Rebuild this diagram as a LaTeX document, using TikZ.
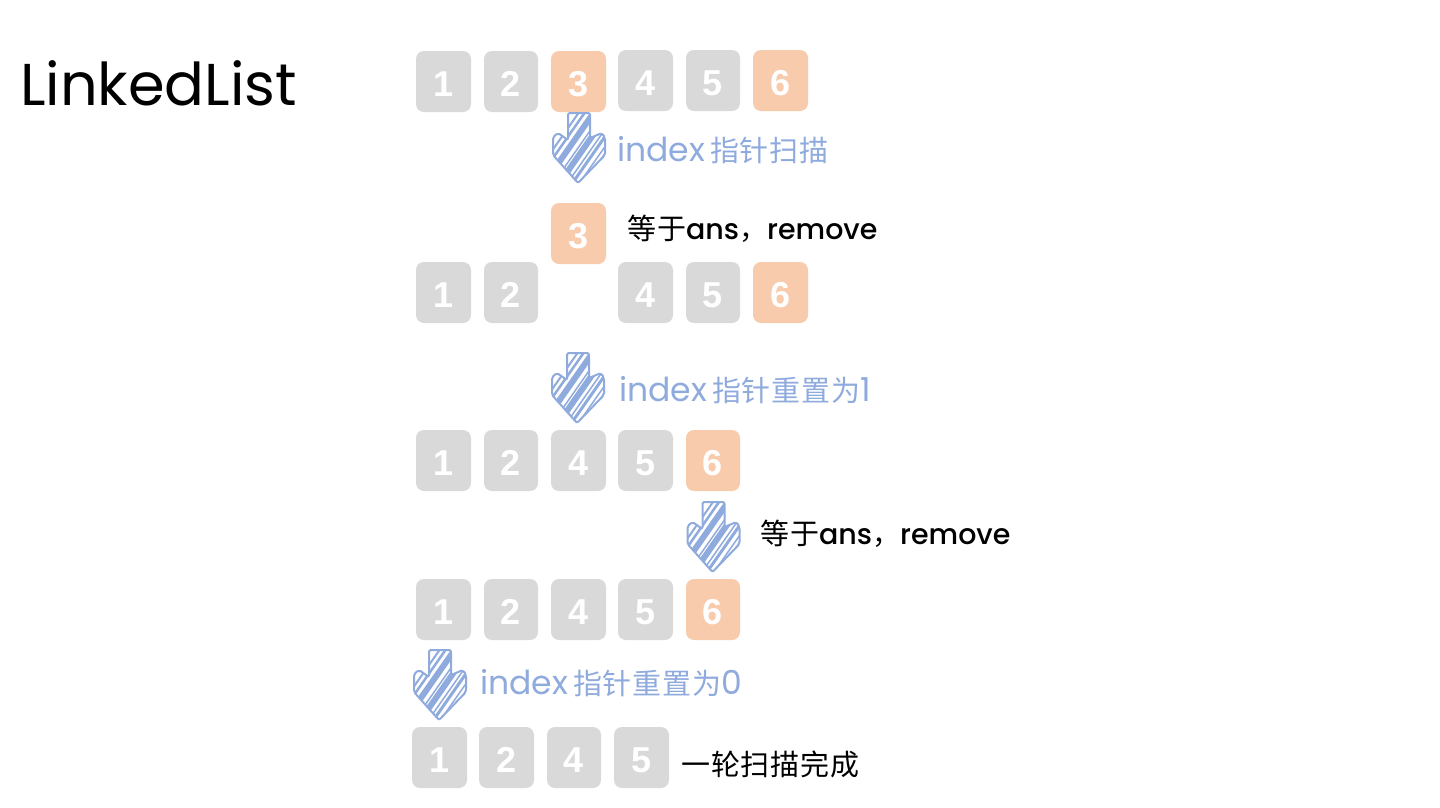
\documentclass[tikz,border=0pt]{standalone}
\usepackage{fontspec}
\setmainfont{Liberation Sans}
\newfontfamily\hand{Poppins}
\newfontfamily\handm{Poppins Medium}
\newfontfamily\cjk[LetterSpace=3]{Noto Sans CJK SC}
\definecolor{cellgray}{HTML}{D9D9D9}
\definecolor{cellorange}{HTML}{F8CBAD}
\definecolor{hatchblue}{HTML}{8FAADC}
\tikzset{
  cellbox/.style={rounded corners=8pt,minimum width=55pt,minimum height=61pt,inner sep=0pt,outer sep=0pt,text=white,font=\fontsize{36}{36}\selectfont\bfseries,anchor=center,text height=29pt,text depth=0pt},
  graycell/.style={cellbox,fill=cellgray},
  orangecell/.style={cellbox,fill=cellorange},
  bluelabel/.style={text=hatchblue,inner sep=0pt,anchor=west},
  blacklabel/.style={text=black,inner sep=0pt,anchor=west},
}
\newcommand{\hatcharrow}[2]{%
\begin{scope}[shift={(#1,#2)}]
  \begin{scope}
    \clip (15,0)--(37,0)--(37,25)--(49,20)--(52,25)--(52,42)--(25,70)--(0,42)--(0,24)--(5,20)--(15,27)--cycle;
    \foreach \a/\w in {-27/2,-21/2.5,-12/6,-3/1.5,3/6,11/1.5,16/3,23/1.5,28/1.5}{
      \draw[hatchblue,line width=\w pt] (\a,75) -- (\a+56,-5);
    }
  \end{scope}
  \draw[hatchblue,line width=2pt,rounded corners=2pt] (15,0)--(37,0)--(37,25)--(49,20)--(52,25)--(52,42)--(25,70)--(0,42)--(0,24)--(5,20)--(15,27)--cycle;
\end{scope}}
\newcommand{\idx}[1]{{\hand\fontsize{33}{33}\selectfont index}\hspace{5pt}{\cjk\fontsize{29}{29}\selectfont #1}}
\newcommand{\eqans}{{\cjk\fontsize{29}{29}\selectfont 等于}{\handm\fontsize{28.5}{28.5}\selectfont ans}{\cjk\fontsize{28}{28}\selectfont ，}{\handm\fontsize{28.5}{28.5}\selectfont remove}}
\begin{document}
\begin{tikzpicture}[x=1pt,y=-1pt]
\useasboundingbox (0,0) rectangle (1440,807);
% row 1
\node[graycell] (a1) at (443.5,81.5) {1};
\node[graycell,minimum width=54pt] (a2) at (511,81.5) {2};
\node[orangecell] (a3) at (578.5,81.5) {3};
\node[graycell] (a4) at (645.5,80.5) {4};
\node[graycell,minimum width=54pt] (a5) at (713,80.5) {5};
\node[orangecell] (a6) at (780.5,80.5) {6};
% row 2
\node[orangecell] (r3) at (578.5,233.5) {3};
\node[graycell] (b1) at (443.5,292.5) {1};
\node[graycell,minimum width=54pt] (b2) at (511,292.5) {2};
\node[graycell] (b4) at (645.5,292.5) {4};
\node[graycell,minimum width=54pt] (b5) at (713,292.5) {5};
\node[orangecell] (b6) at (780.5,292.5) {6};
% row 3
\node[graycell] (c1) at (443.5,460.5) {1};
\node[graycell,minimum width=54pt] (c2) at (511,460.5) {2};
\node[graycell] (c4) at (578.5,460.5) {4};
\node[graycell] (c5) at (645.5,460.5) {5};
\node[orangecell,minimum width=54pt] (c6) at (713,460.5) {6};
% row 4
\node[graycell] (d1) at (443.5,609.5) {1};
\node[graycell,minimum width=54pt] (d2) at (511,609.5) {2};
\node[graycell] (d4) at (578.5,609.5) {4};
\node[graycell] (d5) at (645.5,609.5) {5};
\node[orangecell,minimum width=54pt] (d6) at (713,609.5) {6};
% row 5
\node[graycell] (e1) at (439.5,757.5) {1};
\node[graycell] (e2) at (506.5,757.5) {2};
\node[graycell,minimum width=54pt] (e4) at (574,757.5) {4};
\node[graycell] (e5) at (641.5,757.5) {5};
% arrows
\hatcharrow{553}{113}
\hatcharrow{552}{353}
\hatcharrow{687.5}{502}
\hatcharrow{414}{650}
% labels
\node[blacklabel] (title) at (20,83) {\hand\fontsize{59}{59}\selectfont LinkedList};
\node[bluelabel] (l1) at (617,150) {\idx{指针扫描}};
\node[blacklabel] (l2) at (627,229) {\eqans};
\node[bluelabel] (l3) at (619,390) {\idx{指针重置为}{\hand\fontsize{33}{33}\selectfont 1}};
\node[blacklabel] (l4) at (760,534) {\eqans};
\node[bluelabel] (l5) at (480,683) {\idx{指针重置为}{\hand\fontsize{33}{33}\selectfont 0}};
\node[blacklabel] (l6) at (681,764) {\cjk\fontsize{29}{29}\selectfont 一轮扫描完成};
\end{tikzpicture}
\end{document}
